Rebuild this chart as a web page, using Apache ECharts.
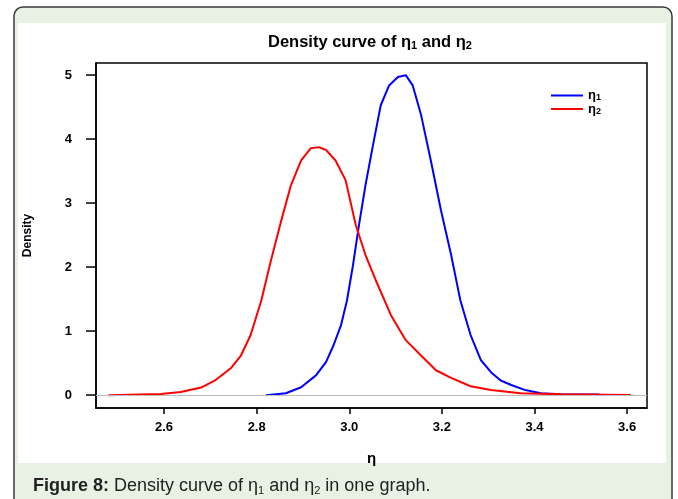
<!DOCTYPE html>
<html>
<head>
<meta charset="utf-8">
<script src="https://cdn.jsdelivr.net/npm/echarts@6/dist/echarts.min.js"></script>
<style>
html,body{margin:0;padding:0;background:#fff;}
#chart{width:678px;height:499px;}
</style>
</head>
<body>
<div id="chart"></div>
<script>
// Density of eta1 (blue)
const eta1X = [2.82, 2.863, 2.896, 2.928, 2.95, 2.966, 2.982, 2.995, 3.008, 3.021, 3.035, 3.051, 3.068, 3.086, 3.105, 3.122, 3.137, 3.155, 3.176, 3.198, 3.22, 3.24, 3.262, 3.284, 3.306, 3.327, 3.35, 3.38, 3.414, 3.457, 3.54];
const eta1Y = [0.0, 0.03, 0.125, 0.31, 0.52, 0.78, 1.09, 1.48, 2.03, 2.66, 3.28, 3.9, 4.53, 4.84, 4.97, 5.0, 4.84, 4.38, 3.67, 2.89, 2.19, 1.48, 0.94, 0.55, 0.36, 0.23, 0.16, 0.08, 0.03, 0.015, 0.01];
// Density of eta2 (red)
const eta2X = [2.48, 2.593, 2.636, 2.68, 2.71, 2.744, 2.766, 2.787, 2.81, 2.83, 2.852, 2.874, 2.896, 2.917, 2.934, 2.95, 2.97, 2.992, 3.014, 3.035, 3.057, 3.09, 3.122, 3.155, 3.187, 3.22, 3.262, 3.306, 3.37, 3.457, 3.608];
const eta2Y = [0.0, 0.02, 0.05, 0.12, 0.23, 0.42, 0.62, 0.94, 1.48, 2.08, 2.7, 3.28, 3.67, 3.86, 3.875, 3.83, 3.67, 3.36, 2.66, 2.19, 1.8, 1.25, 0.86, 0.62, 0.39, 0.27, 0.14, 0.08, 0.03, 0.015, 0.005];
const xTicks = [2.6, 2.8, 3.0, 3.2, 3.4, 3.6];
const yTicks = [0, 1, 2, 3, 4, 5];
const seriesNames = ['eta1', 'eta2'];

const zip = (xs, ys) => xs.map((x, i) => [x, ys[i]]);
const font = 'Liberation Sans, Arial, sans-serif';
const chart = echarts.init(document.getElementById('chart'));
chart.setOption({
  animation: false,
  textStyle: {fontFamily: font},
  graphic: [
    {type: 'rect', z: -10, shape: {x: 14, y: 7, width: 658, height: 510, r: 9},
     style: {fill: '#e8f2e4', stroke: '#3a3a3a', lineWidth: 1.5}},
    {type: 'rect', z: -9, shape: {x: 18, y: 23, width: 648, height: 440},
     style: {fill: '#ffffff'}},
    {type: 'text', z: 10, x: 33, y: 486,
     style: {
       text: '{b|Figure 8:} Density curve of η{s|1} and η{s|2} in one graph.',
       fontFamily: font, fontSize: 18, fill: '#222',
       verticalAlign: 'middle',
       rich: {
         b: {fontWeight: 'bold', fontSize: 18, fontFamily: font, fill: '#222'},
         s: {fontSize: 11, padding: [10, 0, 0, 0], fontFamily: font, fill: '#222'}
       }
     }}
  ],
  title: {
    text: 'Density curve of {g|η}{s|1} and {g|η}{s|2}',
    left: 263, top: 28,
    textStyle: {
      fontSize: 16.5, fontWeight: 'bold', color: '#000', fontFamily: font,
      rich: {
        g: {fontSize: 16.5, fontWeight: 'bold', color: '#000'},
        s: {fontSize: 11, fontWeight: 'bold', color: '#000', padding: [7, 0, 0, 0]}
      }
    }
  },
  legend: {
    orient: 'vertical', left: 546, top: 84, itemWidth: 32, itemHeight: 2, itemGap: 0,
    icon: 'rect',
    data: seriesNames,
    formatter: n => n === 'eta1' ? '{g|η}{s|1}' : '{g|η}{s|2}',
    textStyle: {
      fontSize: 13, fontWeight: 'bold', color: '#000', lineHeight: 13,
      rich: {
        g: {fontSize: 13, fontWeight: 'bold', color: '#000'},
        s: {fontSize: 9, fontWeight: 'bold', color: '#000', padding: [5, 0, 0, 0]}
      }
    }
  },
  grid: {left: 96, right: 31, top: 63, bottom: 91, show: true, borderColor: '#000', borderWidth: 1.5, backgroundColor: 'transparent'},
  xAxis: {
    type: 'value', min: 2.453, max: 3.643,
    name: 'η', nameLocation: 'middle', nameGap: 43,
    nameTextStyle: {fontSize: 15, fontWeight: 'bold', color: '#000'},
    axisLine: {show: true, onZero: false, lineStyle: {color: '#000', width: 1.5}},
    axisTick: {show: true, inside: false, length: 6, customValues: xTicks, lineStyle: {color: '#000', width: 1.5}},
    axisLabel: {show: true, customValues: xTicks, margin: 13, fontSize: 13, fontWeight: 'bold', color: '#000',
      formatter: v => v.toFixed(1)},
    splitLine: {show: false}
  },
  yAxis: {
    type: 'value', min: -0.2, max: 5.19,
    name: 'Density', nameLocation: 'middle', nameGap: 62, nameRotate: 90,
    nameTextStyle: {fontSize: 12, fontWeight: 'bold', color: '#000'},
    axisLine: {show: true, onZero: false, lineStyle: {color: '#000', width: 1.5}},
    axisTick: {show: true, inside: false, length: 10, customValues: yTicks, lineStyle: {color: '#000', width: 1.5}},
    axisLabel: {show: true, customValues: yTicks, margin: 24, fontSize: 13, fontWeight: 'bold', color: '#000'},
    splitLine: {show: false}
  },
  series: [
    {
      name: 'eta1', type: 'line', data: zip(eta1X, eta1Y), showSymbol: false,
      lineStyle: {color: '#0000ff', width: 2}, itemStyle: {color: '#0000ff'},
      markLine: {silent: true, symbol: 'none', label: {show: false},
        lineStyle: {color: '#bdbdbd', width: 1.2, type: 'solid'}, data: [{yAxis: 0}]}
    },
    {
      name: 'eta2', type: 'line', data: zip(eta2X, eta2Y), showSymbol: false,
      lineStyle: {color: '#ff0000', width: 2}, itemStyle: {color: '#ff0000'}
    }
  ]
});
</script>
</body>
</html>
